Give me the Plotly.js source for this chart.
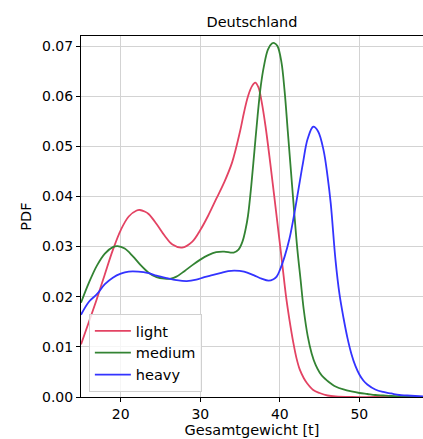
<!DOCTYPE html>
<html>
<head>
<meta charset="utf-8">
<script src="https://cdn.plot.ly/plotly-3.0.1.min.js"></script>
<style>html,body{margin:0;padding:0;background:#fff;}#chart{width:423px;height:439px;}</style>
</head>
<body>
<div id="chart"></div>
<script>
const seriesNames = ["light", "medium", "heavy"];
const seriesColors = ["#e34363", "#338333", "#3333ff"];

const lightX = [15,16,17,18,19,20,21,22,22.4,23,23.5,24.5,25.5,26.5,27.7,29,30,31,32,33,34,35,35.5,36,36.5,36.9,37.3,37.7,38.2,38.8,39.3,39.8,40.3,40.8,41.2,41.7,42.1,42.5,43,43.4,44.2,45,46,47,49,52,58];
const lightY = [0.0105,0.0150,0.0196,0.0245,0.0293,0.0333,0.0360,0.0372,0.0373,0.0370,0.0365,0.0345,0.0322,0.0304,0.0298,0.0310,0.0333,0.0362,0.0395,0.0428,0.0468,0.0530,0.0568,0.0600,0.0620,0.0627,0.0618,0.0590,0.0540,0.0466,0.0400,0.0333,0.0266,0.0198,0.0155,0.0108,0.0077,0.0055,0.0038,0.0028,0.0014,0.0008,0.0003,0.0001,0.0,0.0,0.0];

const mediumX = [15,16,17,18,19,19.6,20.5,21.5,22.5,23.5,24.5,25.5,26.3,27,28,29,30,31,32,33,34.2,34.8,35.3,35.7,36,36.4,36.8,37.2,37.6,38,38.5,39,39.3,39.7,40.2,40.6,41,41.4,41.8,42.2,42.6,43,43.5,44,44.5,45,45.5,46,46.5,47,48,49,50,51,52,53,54,56,58];
const mediumY = [0.0188,0.0228,0.0262,0.0286,0.0299,0.0301,0.0296,0.0281,0.0263,0.0248,0.0239,0.0236,0.0236,0.0240,0.0251,0.0263,0.0274,0.0283,0.0289,0.0290,0.0288,0.0294,0.0310,0.0335,0.0362,0.0420,0.0490,0.0560,0.0620,0.0660,0.0693,0.0705,0.0706,0.0700,0.0668,0.0610,0.0530,0.0450,0.0370,0.0295,0.0235,0.0175,0.0122,0.0087,0.0064,0.0049,0.0039,0.0032,0.0026,0.0021,0.0015,0.0011,0.0008,0.0006,0.0004,0.0003,0.0002,0.0001,0.0];

const heavyX = [15,16,17,18,19,20,21,22.2,23.5,24.5,25.8,27,28.3,29.5,30.5,31.5,32.5,33.5,34.3,35.5,36.7,37.7,38.6,39.2,39.6,40,40.6,41.2,41.7,42.3,42.9,43.5,44.2,44.8,45.5,46,46.4,47,47.5,48,48.5,49,49.5,50,50.5,51,52,53,54,55,56,58];
const heavyY = [0.0164,0.0190,0.0205,0.0225,0.0238,0.0246,0.0250,0.0250,0.0247,0.0242,0.0237,0.0233,0.0231,0.0234,0.0239,0.0243,0.0247,0.0251,0.0252,0.0250,0.0243,0.0236,0.0232,0.0235,0.0240,0.0253,0.0280,0.0315,0.0355,0.0410,0.0466,0.0515,0.0539,0.0530,0.0492,0.0440,0.0386,0.0273,0.0205,0.0158,0.0118,0.0086,0.0062,0.0045,0.0033,0.0025,0.0015,0.0010,0.0007,0.0004,0.0003,0.0001];

const xTickVals = [20, 30, 40, 50];
const yTickVals = [0, 0.01, 0.02, 0.03, 0.04, 0.05, 0.06, 0.07];

const xs = [lightX, mediumX, heavyX];
const ys = [lightY, mediumY, heavyY];

const font = "DejaVu Sans, sans-serif";
const traces = seriesNames.map((n, i) => ({
  type: "scatter", mode: "lines", name: n,
  x: xs[i], y: ys[i],
  line: {color: seriesColors[i], width: 1.8, shape: "spline", smoothing: 1}
}));

const layout = {
  width: 423, height: 439,
  margin: {l: 81, r: 0, t: 36, b: 42},
  paper_bgcolor: "#fff", plot_bgcolor: "#fff",
  font: {family: font, size: 14, color: "#000"},
  title: {text: "Deutschland", font: {family: font, size: 14.5, color: "#000"}, x: 0.5, xref: "paper", xanchor: "center", y: 1 - 22/439, yref: "container", yanchor: "middle"},
  showlegend: true,
  legend: {x: 0.023, y: 0.014, xanchor: "left", yanchor: "bottom", bgcolor: "rgba(255,255,255,0.8)", bordercolor: "#d0d0d0", borderwidth: 1, font: {family: font, size: 14.5, color: "#000"}, itemwidth: 36, tracegroupgap: 0},
  xaxis: {
    range: [15, 58], tickvals: xTickVals, ticktext: xTickVals.map(String),
    showgrid: true, gridcolor: "#d3d3d3", gridwidth: 1,
    showline: true, linecolor: "#000", linewidth: 1, mirror: true,
    ticks: "outside", ticklen: 4, tickcolor: "#000", zeroline: false,
    tickfont: {family: font, size: 14},
    title: {text: "Gesamtgewicht [t]", font: {family: font, size: 14.5}, standoff: 4},
    automargin: false
  },
  yaxis: {
    range: [0, 0.072], tickvals: yTickVals, tickformat: ".2f",
    showgrid: true, gridcolor: "#d3d3d3", gridwidth: 1,
    showline: true, linecolor: "#000", linewidth: 1,
    ticks: "outside", ticklen: 4, tickcolor: "#000", zeroline: false,
    tickfont: {family: font, size: 14},
    title: {text: "PDF", font: {family: font, size: 14.5}, standoff: 6},
    automargin: false
  }
};

Plotly.newPlot("chart", traces, layout, {displayModeBar: false, staticPlot: true});
</script>
</body>
</html>
